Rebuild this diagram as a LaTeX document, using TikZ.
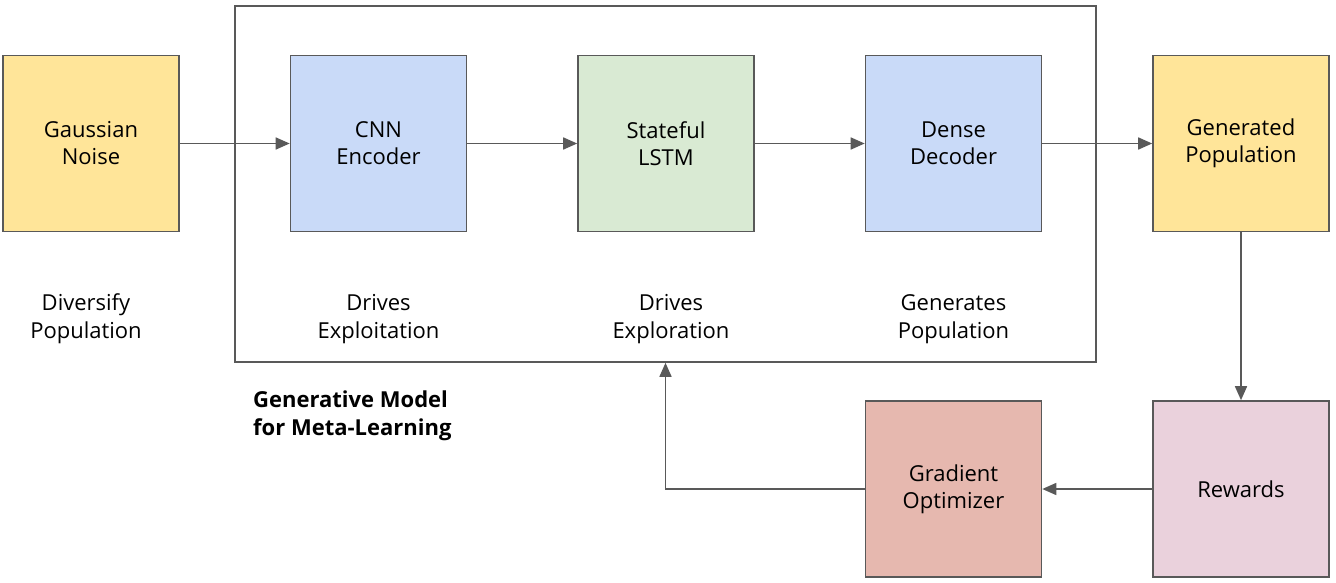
\documentclass[tikz,border=0pt]{standalone}
\usepackage{fontspec}
\setmainfont{Open Sans}
\usetikzlibrary{arrows.meta}
\definecolor{lineGray}{HTML}{595959}
\definecolor{noiseYellow}{HTML}{FFE599}
\definecolor{netBlue}{HTML}{C9DAF8}
\definecolor{lstmGreen}{HTML}{D9EAD3}
\definecolor{optRed}{HTML}{E6B8AF}
\definecolor{rewardPink}{HTML}{EAD1DC}
\tikzset{
    block/.style={draw=lineGray, line width=1.6pt, minimum width=176pt, minimum height=176pt,
        inner sep=0pt, align=center, font=\fontsize{22}{27}\selectfont},
    caption/.style={align=center, inner sep=0pt, font=\fontsize{22}{28}\selectfont},
    link/.style={draw=lineGray, line width=1.6pt, -{Triangle[length=14pt,width=12pt]}}
}
\begin{document}
\begin{tikzpicture}[x=1pt,y=-1pt]
    \useasboundingbox (0,0) rectangle (1336,583);
    % Frame of the generative model
    \node[draw=lineGray, line width=1.6pt, minimum width=861pt, minimum height=356pt] (frame) at (665.5,184) {};
    \node[anchor=west, align=left, inner sep=0pt, font=\fontsize{22}{28}\selectfont\bfseries] (title) at (253,416) {Generative Model\\for Meta-Learning};
    % Blocks
    \node[block, fill=noiseYellow] (noise) at (91,143.5) {Gaussian\\Noise};
    \node[block, fill=netBlue] (cnn) at (378.5,143.5) {CNN\\Encoder};
    \node[block, fill=lstmGreen] (lstm) at (666,143.5) {Stateful\\LSTM};
    \node[block, fill=netBlue] (dense) at (953.5,143.5) {Dense\\Decoder};
    \node[block, fill=noiseYellow] (gen) at (1241,143.5) {Generated\\Population};
    \node[block, fill=rewardPink] (rewards) at (1241,489) {Rewards};
    \node[block, fill=optRed] (grad) at (953.5,489) {Gradient\\Optimizer};
    % Captions
    \node[caption] (divcap) at (86,319) {Diversify\\Population};
    \node[caption] (cnncap) at (378.5,319) {Drives\\Exploitation};
    \node[caption] (lstmcap) at (671,319) {Drives\\Exploration};
    \node[caption] (densecap) at (953.5,319) {Generates\\Population};
    % Connectors
    \draw[link] (noise) -- (cnn);
    \draw[link] (cnn) -- (lstm);
    \draw[link] (lstm) -- (dense);
    \draw[link] (dense) -- (gen);
    \draw[link] (gen) -- (rewards);
    \draw[link] (rewards) -- (grad);
    \draw[link] (grad.west) -| (frame.south);
\end{tikzpicture}
\end{document}
